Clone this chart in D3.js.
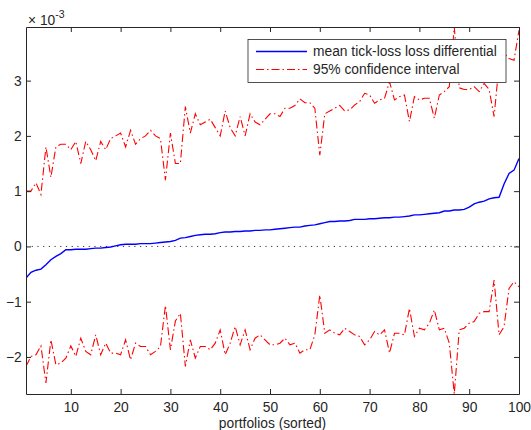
<!DOCTYPE html>
<html>
<head>
<meta charset="utf-8">
<script src="https://cdn.jsdelivr.net/npm/d3@7"></script>
<style>
	body { margin: 0; background: #fff; }
	svg text { font-family: "Liberation Sans", Arial, Helvetica, sans-serif; fill: #262626; }
</style>
</head>
<body>
<svg id="chart" width="531" height="430"></svg>
<script>
//=================== DATA (all values in units of 1e-3) ====================
var portfolios = d3.range(1, 101);

var meanDiff = [
	-0.57, -0.47, -0.43, -0.41, -0.33, -0.24, -0.18, -0.13, -0.06, -0.06,
	-0.05, -0.05, -0.05, -0.04, -0.03, -0.03, -0.02, -0.01, 0.01, 0.03,
	0.04, 0.04, 0.04, 0.05, 0.05, 0.05, 0.06, 0.07, 0.08, 0.09,
	0.11, 0.15, 0.16, 0.18, 0.20, 0.21, 0.22, 0.22, 0.23, 0.25,
	0.26, 0.26, 0.27, 0.27, 0.28, 0.28, 0.29, 0.29, 0.30, 0.30,
	0.31, 0.32, 0.33, 0.34, 0.35, 0.35, 0.37, 0.38, 0.39, 0.41,
	0.43, 0.45, 0.45, 0.46, 0.46, 0.47, 0.49, 0.49, 0.49, 0.50,
	0.50, 0.51, 0.52, 0.52, 0.53, 0.53, 0.54, 0.55, 0.57, 0.57,
	0.58, 0.59, 0.60, 0.61, 0.64, 0.64, 0.66, 0.66, 0.67, 0.71,
	0.77, 0.80, 0.82, 0.86, 0.88, 0.89, 1.13, 1.32, 1.38, 1.59
];

var upperCI = [
	1.00, 1.00, 1.15, 0.94, 1.80, 1.25, 1.80, 1.85, 1.85, 1.75,
	1.90, 1.50, 1.90, 1.75, 1.55, 1.90, 1.75, 1.95, 2.00, 2.05,
	1.80, 2.10, 1.85, 1.95, 2.00, 2.10, 2.00, 1.95, 1.20, 2.05,
	1.50, 1.50, 2.53, 2.05, 2.40, 2.20, 2.25, 2.30, 2.15, 2.00,
	2.45, 2.15, 2.00, 2.35, 2.00, 2.40, 2.25, 2.20, 2.30, 2.40,
	2.40, 2.35, 2.50, 2.50, 2.55, 2.67, 2.60, 2.60, 2.50, 1.65,
	2.40, 2.45, 2.50, 2.55, 2.45, 2.47, 2.56, 2.62, 2.77, 2.74,
	2.59, 2.65, 2.68, 2.98, 2.65, 2.71, 2.74, 2.26, 2.71, 2.65,
	2.68, 2.68, 2.32, 2.74, 2.80, 2.89, 3.97, 2.87, 2.84, 2.84,
	2.89, 2.80, 2.95, 2.84, 2.35, 3.30, 3.50, 3.40, 3.37, 3.91
];

var lowerCI = [
	-2.17, -1.99, -1.96, -1.80, -2.47, -1.69, -2.14, -2.11, -2.02, -1.80,
	-1.99, -1.66, -1.90, -1.96, -1.60, -1.96, -1.75, -1.93, -1.93, -1.96,
	-1.69, -2.05, -1.75, -1.81, -1.81, -1.96, -1.90, -1.81, -1.07, -1.87,
	-1.35, -1.21, -2.17, -1.69, -2.02, -1.81, -1.81, -1.87, -1.75, -1.51,
	-1.96, -1.75, -1.45, -1.78, -1.51, -1.87, -1.66, -1.60, -1.69, -1.78,
	-1.78, -1.75, -1.66, -1.78, -1.75, -1.93, -1.87, -1.87, -1.60, -0.88,
	-1.57, -1.51, -1.57, -1.60, -1.48, -1.54, -1.60, -1.63, -1.78, -1.69,
	-1.54, -1.60, -1.51, -1.93, -1.57, -1.57, -1.60, -1.12, -1.63, -1.48,
	-1.51, -1.39, -1.15, -1.51, -1.48, -1.75, -2.67, -1.51, -1.48, -1.39,
	-1.36, -1.21, -1.18, -1.18, -0.61, -1.60, -1.45, -0.76, -0.64, -0.73
];

var xTicks = [10, 20, 30, 40, 50, 60, 70, 80, 90, 100];
var yTicks = [-2, -1, 0, 1, 2, 3];
var seriesNames = ["mean tick-loss loss differential", "95% confidence interval"];
var xLabel = "portfolios (sorted)";
var yExponent = "-3";

//=================== LAYOUT ====================================
var svgWidth = 531;
var svgHeight = 430;
var margin = { left: 26, top: 27, right: 12, bottom: 36 };
var plotW = svgWidth - margin.left - margin.right;
var plotH = svgHeight - margin.top - margin.bottom;
var axisColour = "#262626";
var fontSize = "13.8px";
var tickLen = 5;

var svg = d3.select("#chart");
svg.append("rect").attr("width", svgWidth).attr("height", svgHeight).attr("fill", "#fff");

var grp = svg.append("g")
	.attr("transform", "translate(" + [margin.left, margin.top] + ")");

// MATLAB style "axis tight": limits come from the data extremes
var xScale = d3.scaleLinear()
	.domain(d3.extent(portfolios))
	.range([0, plotW]);
var yScale = d3.scaleLinear()
	.domain([d3.min(lowerCI), d3.max(upperCI)])
	.range([plotH, 0]);

grp.append("clipPath").attr("id", "plotClip")
	.append("rect").attr("width", plotW).attr("height", plotH);

var plotArea = grp.append("g").attr("clip-path", "url(#plotClip)");

//=================== LINES ====================================
function lineFor(values) {
	return d3.line()
		.x(function (d, i) { return xScale(portfolios[i]); })
		.y(function (d) { return yScale(d); })(values);
}

// dotted zero reference
plotArea.append("line")
	.attr("x1", xScale(portfolios[0]))
	.attr("x2", xScale(portfolios[portfolios.length - 1]))
	.attr("y1", yScale(0))
	.attr("y2", yScale(0))
	.attr("stroke", "#333")
	.attr("stroke-width", 1)
	.attr("stroke-dasharray", "1.2,4.5");

var dashDot = "8,3,1.5,3";

[upperCI, lowerCI].forEach(function (series) {
	plotArea.append("path")
		.attr("d", lineFor(series))
		.attr("fill", "none")
		.attr("stroke", "#ff0000")
		.attr("stroke-width", 1.1)
		.attr("stroke-dasharray", dashDot);
});

plotArea.append("path")
	.attr("d", lineFor(meanDiff))
	.attr("fill", "none")
	.attr("stroke", "#0000ff")
	.attr("stroke-width", 1.4);

//=================== AXES ====================================
function styleAxis(g) {
	g.selectAll("path, line").attr("stroke", axisColour);
	g.selectAll("text").attr("fill", axisColour).style("font-size", fontSize).attr("font-family", null);
}

grp.append("g")
	.attr("transform", "translate(0," + plotH + ")")
	.call(d3.axisBottom(xScale).tickValues(xTicks).tickSizeInner(-tickLen).tickSizeOuter(0).tickPadding(8))
	.call(styleAxis);

grp.append("g")
	.call(d3.axisTop(xScale).tickValues(xTicks).tickSizeInner(-tickLen).tickSizeOuter(0).tickFormat(""))
	.call(styleAxis);

grp.append("g")
	.call(d3.axisLeft(yScale).tickValues(yTicks).tickSizeInner(-tickLen).tickSizeOuter(0).tickPadding(4.3)
		.tickFormat(d3.format("d")))
	.call(styleAxis);

grp.append("g")
	.attr("transform", "translate(" + plotW + ",0)")
	.call(d3.axisRight(yScale).tickValues(yTicks).tickSizeInner(-tickLen).tickSizeOuter(0).tickFormat(""))
	.call(styleAxis);

// exponent label top-left
var expText = svg.append("text")
	.attr("x", margin.left + 2)
	.attr("y", 24.5)
	.style("font-size", fontSize)
	.text("\u00d7 10");
expText.append("tspan")
	.attr("dy", -6.3)
	.style("font-size", "10.5px")
	.text(yExponent);

// x axis label
svg.append("text")
	.attr("x", margin.left + plotW / 2)
	.attr("y", 427.5)
	.attr("text-anchor", "middle")
	.style("font-size", fontSize)
	.text(xLabel);

//=================== LEGEND ====================================
var legend = svg.append("g").attr("transform", "translate(" + [248, 39.5] + ")");

legend.append("rect")
	.attr("width", 258)
	.attr("height", 43)
	.attr("fill", "#fff")
	.attr("stroke", axisColour)
	.attr("stroke-width", 0.8);

var legendStyles = [
	{ colour: "#0000ff", width: 1.4, dash: null },
	{ colour: "#ff0000", width: 1.1, dash: dashDot }
];

seriesNames.forEach(function (name, i) {
	var rowY = 12 + i * 18;
	legend.append("line")
		.attr("x1", 8).attr("x2", 59)
		.attr("y1", rowY).attr("y2", rowY)
		.attr("stroke", legendStyles[i].colour)
		.attr("stroke-width", legendStyles[i].width)
		.attr("stroke-dasharray", legendStyles[i].dash);
	legend.append("text")
		.attr("x", 65)
		.attr("y", rowY)
		.attr("dy", "0.35em")
		.style("font-size", fontSize)
		.text(name);
});
</script>
</body>
</html>
